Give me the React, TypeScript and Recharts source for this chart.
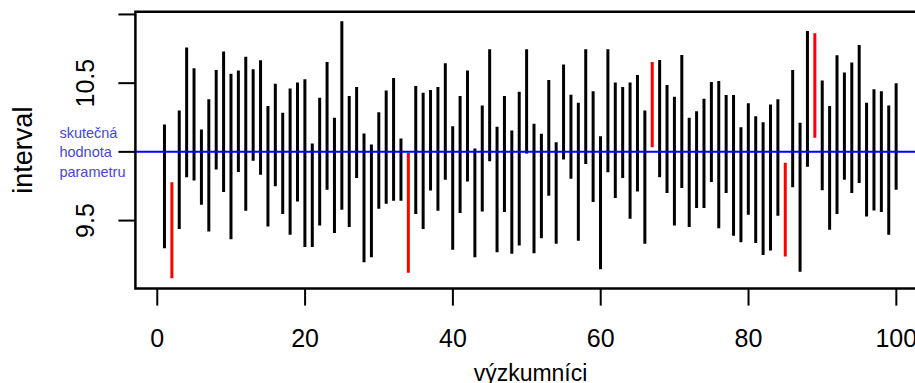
import { ComposedChart, Bar, XAxis, YAxis, Cell, ReferenceLine, ReferenceArea } from 'recharts'

// horní a dolní meze intervalů (výzkumník 1..100)
const upper = [
  10.199, 9.778, 10.301, 10.759, 10.608, 10.163, 10.382, 10.596, 10.73, 10.569,
  10.593, 10.693, 10.601, 10.666, 10.333, 10.496, 10.285, 10.462, 10.504, 10.528,
  10.061, 10.394, 10.654, 10.248, 10.951, 10.406, 10.472, 10.134, 10.053, 10.289,
  10.447, 10.537, 10.097, 9.993, 10.479, 10.431, 10.45, 10.472, 10.645, 10.187,
  10.406, 10.593, 10.024, 10.338, 10.747, 10.182, 10.406, 10.155, 10.438, 10.747,
  10.204, 10.131, 10.523, 10.07, 10.635, 10.416, 10.358, 10.747, 10.442, 10.114,
  10.747, 10.504, 10.472, 10.504, 10.559, 10.301, 10.654, 10.669, 10.486, 10.401,
  10.705, 10.248, 10.296, 10.387, 10.508, 10.515, 10.413, 10.413, 10.18, 10.353,
  10.26, 10.216, 10.345, 10.382, 9.92, 10.596, 10.212, 10.88, 10.864, 10.52,
  10.333, 10.703, 10.577, 10.65, 10.778, 10.358, 10.455, 10.442, 10.338, 10.499,
]
const lower = [
  9.299, 9.08, 9.438, 9.815, 9.791, 9.615, 9.42, 9.871, 9.708, 9.365,
  9.854, 9.572, 9.936, 9.834, 9.457, 9.749, 9.547, 9.396, 9.639, 9.307,
  9.307, 9.464, 9.725, 9.409, 9.579, 9.453, 9.81, 9.197, 9.234, 9.586,
  9.623, 9.645, 9.645, 9.121, 9.547, 9.438, 9.718, 9.572, 9.798, 9.287,
  9.555, 9.785, 9.234, 9.566, 9.931, 9.27, 9.562, 9.258, 9.318, 9.988,
  9.263, 9.372, 9.681, 9.331, 9.944, 9.805, 9.353, 9.912, 9.635, 9.146,
  9.851, 9.664, 9.81, 9.513, 9.712, 9.331, 10.034, 9.815, 9.701, 9.464,
  9.737, 9.453, 9.591, 9.591, 9.781, 9.445, 9.701, 9.389, 9.343, 9.542,
  9.336, 9.25, 9.282, 9.535, 9.238, 9.742, 9.128, 9.891, 10.102, 9.72,
  9.433, 9.547, 9.798, 9.701, 9.774, 9.53, 9.574, 9.562, 9.396, 9.725,
]
const xTicks = [0, 20, 40, 60, 80, 100]
const yTicks = [9.5, 10, 10.5, 11]
const TRUE_VALUE = 10

const data = upper.map((hi, i) => ({
  id: i + 1,
  range: [lower[i], hi],
  miss: lower[i] > TRUE_VALUE || hi < TRUE_VALUE,
}))

const X_DOMAIN: [number, number] = [-2.96, 103.96]
const Y_DOMAIN: [number, number] = [9.005, 11.02]

function YTick({ x, y, payload }: any) {
  const v = payload.value
  if (v === 10) {
    const lx = x - 57
    return (
      <text x={lx} y={y} fill="#4646e0" fontSize={14.5}>
        <tspan x={lx} dy={-14}>skutečná</tspan>
        <tspan x={lx} dy={19.5}>hodnota</tspan>
        <tspan x={lx} dy={19.5}>parametru</tspan>
      </text>
    )
  }
  if (v === 9.5 || v === 10.5) {
    const bx = x - 22
    return (
      <text x={bx} y={y} transform={`rotate(-90 ${bx} ${y})`} textAnchor="middle" fontSize={25} fill="#000">
        {v.toFixed(1)}
      </text>
    )
  }
  return null
}

export default function App() {
  return (
    <div
      style={{
        position: 'fixed',
        left: 0,
        top: 0,
        width: 915,
        height: 383,
        overflow: 'hidden',
        background: '#fff',
        fontFamily: '"Liberation Sans", Arial, sans-serif',
      }}
    >
      <ComposedChart width={960} height={383} data={data} margin={{ top: 11.7, right: 34.4, bottom: 0, left: 0 }}>
        <XAxis
          dataKey="id"
          type="number"
          domain={X_DOMAIN}
          allowDataOverflow
          ticks={xTicks}
          interval={0}
          axisLine={false}
          tickLine={{ stroke: '#000', strokeWidth: 2 }}
          tickSize={17}
          tickMargin={24}
          height={94.4}
          tick={{ fontSize: 25, fill: '#000' }}
          label={{ value: 'výzkumníci', position: 'insideBottom', offset: 2, fontSize: 23, fill: '#000' }}
        />
        <YAxis
          type="number"
          domain={Y_DOMAIN}
          allowDataOverflow
          ticks={yTicks}
          interval={0}
          width={135.4}
          axisLine={false}
          tickLine={{ stroke: '#000', strokeWidth: 2 }}
          tickSize={17}
          tick={<YTick />}
          label={{
            content: ({ viewBox }: any) => {
              const cy = viewBox.y + viewBox.height / 2
              return (
                <text x={31.7} y={cy} transform={`rotate(-90 31.7 ${cy})`} textAnchor="middle" fontSize={27} fill="#000">
                  interval
                </text>
              )
            },
          }}
        />
        <Bar dataKey="range" barSize={3} isAnimationActive={false}>
          {data.map((d) => (
            <Cell key={d.id} fill={d.miss ? '#ff0000' : '#000000'} />
          ))}
        </Bar>
        <ReferenceLine y={TRUE_VALUE} stroke="#0000ff" strokeWidth={2} />
        <ReferenceArea
          x1={X_DOMAIN[0]}
          x2={X_DOMAIN[1]}
          y1={Y_DOMAIN[0]}
          y2={Y_DOMAIN[1]}
          fill="none"
          fillOpacity={0}
          stroke="#000"
          strokeWidth={2.5}
          strokeOpacity={1}
        />
      </ComposedChart>
    </div>
  )
}
